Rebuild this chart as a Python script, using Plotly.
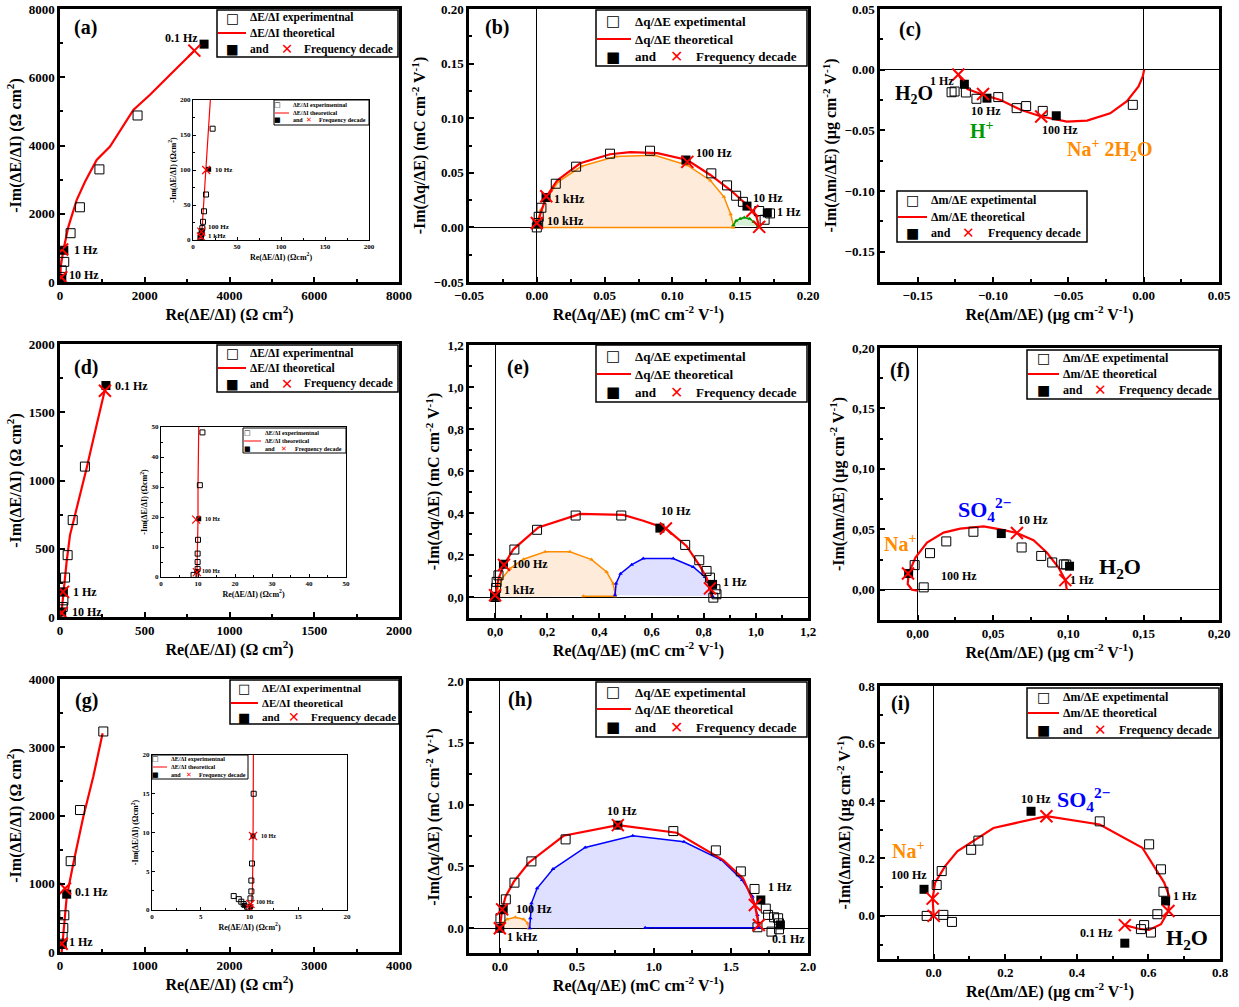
import plotly.graph_objects as go

W, H = 1239, 1007
FONT = "Liberation Serif"
RED = "#ff0000"
ORANGE = "#ff8c00"
BLUE = "#0000ff"
GREEN = "#009900"

# ---------------- (a) ----------------
A_EXP_X = [25, 30, 40, 100, 250, 470, 930, 1830]
A_EXP_Y = [60, 150, 340, 590, 1430, 2190, 3300, 4880]
A_DEC_X = [25, 90, 3400]
A_DEC_Y = [100, 930, 6970]
A_XM_X = [30, 50, 3170]
A_XM_Y = [140, 950, 6780]
A_TH_X = [8, 16, 79, 197, 393, 590, 865, 1180, 1731, 2124, 2675, 3171]
A_TH_Y = [0, 441, 930, 1616, 2400, 2938, 3575, 3967, 5044, 5485, 6170, 6778]
A_LAB_T = ["0.1 Hz", "1 Hz", "10 Hz"]
A_LAB_X = [2872, 275, 157]
A_LAB_Y = [7150, 930, 196]
# inset (a)
AI_EXP_X = [8.5, 9, 9.5, 10, 10.6, 11.4, 12.5, 14.8, 22.3]
AI_EXP_Y = [2, 4, 8, 12, 17, 26, 41, 65, 159]
AI_DEC_X = [9, 9.5, 17.8]
AI_DEC_Y = [6, 13, 101]
AI_XM_X = [9, 9.5, 15]
AI_XM_Y = [5, 12, 100]
AI_TH_X = [9, 10, 11, 13, 15, 17, 19.7]
AI_TH_Y = [0, 10, 30, 70, 110, 150, 200]
AI_LAB_T = ["10 Hz", "100 Hz", "1 kHz"]
AI_LAB_X = [22.7, 14.4, 15]
AI_LAB_Y = [100, 18, 6]

# ---------------- (b) ----------------
B_EXP_X = [0, 0.001, 0.0014, 0.0034, 0.014, 0.029, 0.054, 0.0835, 0.1287, 0.1403, 0.147, 0.152, 0.164, 0.168, 0.172]
B_EXP_Y = [0, 0.004, 0.0097, 0.018, 0.040, 0.0556, 0.0675, 0.0702, 0.0495, 0.0385, 0.029, 0.0234, 0.015, 0.007, 0.0128]
B_DEC_X = [0.0002, 0.0068, 0.110, 0.155, 0.170]
B_DEC_Y = [0.003, 0.0274, 0.0617, 0.0195, 0.0133]
B_XM_X = [0, 0.007, 0.111, 0.159, 0.164]
B_XM_Y = [0.004, 0.0286, 0.060, 0.015, 0.0005]
B_TH_X = [0, 0.0027, 0.007, 0.015, 0.032, 0.054, 0.069, 0.089, 0.111, 0.128, 0.143, 0.155, 0.162, 0.164]
B_TH_Y = [0, 0.0127, 0.028, 0.043, 0.0587, 0.067, 0.069, 0.068, 0.0617, 0.048, 0.034, 0.0205, 0.0097, 0.0005]
B_OR_X = [0, 0.001, 0.003, 0.008, 0.016, 0.033, 0.058, 0.087, 0.111, 0.128, 0.138, 0.143, 0.145, 0.145, 0.0]
B_OR_Y = [0, 0.008, 0.016, 0.028, 0.042, 0.056, 0.065, 0.066, 0.057, 0.043, 0.028, 0.012, 0.002, 0.0, 0.0]
B_GR_X = [0.145, 0.147, 0.150, 0.153, 0.157, 0.160, 0.163]
B_GR_Y = [0.002, 0.006, 0.008, 0.009, 0.008, 0.005, 0.001]
B_LAB_T = ["100 Hz", "1 kHz", "10 kHz", "10 Hz", "1 Hz"]
B_LAB_X = [0.1157, 0.0113, 0.0063, 0.158, 0.176]
B_LAB_Y = [0.0678, 0.0256, 0.006, 0.0271, 0.0137]

# ---------------- (c) ----------------
C_EXP_X = [-0.1275, -0.1255, -0.118, -0.111, -0.0965, -0.0843, -0.078, -0.067, -0.0072]
C_EXP_Y = [-0.0186, -0.018, -0.0188, -0.024, -0.0226, -0.0317, -0.030, -0.034, -0.029]
C_DEC_X = [-0.119, -0.104, -0.058]
C_DEC_Y = [-0.012, -0.0235, -0.038]
C_XM_X = [-0.123, -0.1066, -0.068]
C_XM_Y = [-0.004, -0.020, -0.0386]
C_TH_X = [-0.123, -0.117, -0.1066, -0.095, -0.0817, -0.068, -0.0509, -0.0376, -0.0222, -0.0111, -0.0034, -0.0006, 0.0003]
C_TH_Y = [-0.004, -0.016, -0.0207, -0.025, -0.033, -0.0386, -0.0428, -0.042, -0.036, -0.026, -0.0138, -0.0056, 0]
C_LAB_T = ["1 Hz", "10 Hz", "100 Hz"]
C_LAB_X = [-0.134, -0.1045, -0.0557]
C_LAB_Y = [-0.0091, -0.0339, -0.0496]

# ---------------- (d) ----------------
D_EXP_X = [16, 20, 30, 45, 75, 147]
D_EXP_Y = [73, 122, 289, 453, 710, 1102]
D_DEC_X = [10, 20, 271]
D_DEC_Y = [37, 184, 1696]
D_XM_X = [10, 18, 265]
D_XM_Y = [30, 184, 1657]
D_TH_X = [6, 20, 39, 59, 98, 157, 216, 265]
D_TH_Y = [0, 184, 404, 600, 795, 1089, 1407, 1665]
D_LAB_T = ["0.1 Hz", "1 Hz", "10 Hz"]
D_LAB_X = [315, 63, 59]
D_LAB_Y = [1689, 184, 37]
# inset (d)
DI_EXP_X = [8.8, 9.9, 9.9, 9.9, 10.0, 10.5, 11.2]
DI_EXP_Y = [0.7, 2.7, 5.0, 7.8, 12.4, 30.6, 48.2]
DI_DEC_X = [9.7, 10.2]
DI_DEC_Y = [1.8, 19.4]
DI_XM_X = [9.7, 9.5]
DI_XM_Y = [1.6, 19.1]
DI_TH_X = [9.7, 9.9, 10.0, 10.0, 10.1, 10.2]
DI_TH_Y = [0, 10.2, 19.1, 30, 39, 50]
DI_LAB_T = ["10 Hz", "100 Hz"]
DI_LAB_X = [11.35, 10.45]
DI_LAB_Y = [19.4, 1.9]

# ---------------- (e) ----------------
E_EXP_X = [0, 0.004, 0.006, 0.013, 0.074, 0.161, 0.309, 0.484, 0.729, 0.783, 0.811, 0.824, 0.845, 0.849, 0.837]
E_EXP_Y = [0, 0.043, 0.072, 0.103, 0.226, 0.320, 0.388, 0.388, 0.248, 0.175, 0.124, 0.092, 0.037, 0.013, -0.003]
E_DEC_X = [0, 0.032, 0.632, 0.834]
E_DEC_Y = [0.003, 0.156, 0.328, 0.060]
E_XM_X = [0, 0.034, 0.655, 0.824]
E_XM_Y = [0.008, 0.153, 0.326, 0.041]
E_TH_X = [0, 0.013, 0.034, 0.070, 0.166, 0.326, 0.492, 0.568, 0.655, 0.734, 0.785, 0.811, 0.824, 0.830]
E_TH_Y = [0, 0.087, 0.153, 0.227, 0.331, 0.396, 0.391, 0.363, 0.326, 0.243, 0.148, 0.092, 0.041, 0]
E_OR_X = [0, 0.009, 0.026, 0.057, 0.109, 0.192, 0.287, 0.370, 0.428, 0.453, 0.460, 0.460, 0.338]
E_OR_Y = [0, 0.040, 0.087, 0.135, 0.180, 0.215, 0.215, 0.178, 0.119, 0.064, 0.016, 0.004, 0.004]
E_BL_X = [0.460, 0.464, 0.481, 0.524, 0.568, 0.683, 0.760, 0.805, 0.830, 0.834]
E_BL_Y = [0.008, 0.064, 0.111, 0.154, 0.183, 0.183, 0.143, 0.095, 0.040, 0.003]
E_LAB_T = ["10 Hz", "100 Hz", "1 kHz", "1 Hz"]
E_LAB_X = [0.693, 0.057, 0.0255, 0.868]
E_LAB_Y = [0.41, 0.157, 0.032, 0.070]
E_TICKS = [0.0, 0.2, 0.4, 0.6, 0.8, 1.0, 1.2]
E_TICKTEXT = ["0,0", "0,2", "0,4", "0,6", "0,8", "1,0", "1,2"]

# ---------------- (f) ----------------
F_EXP_X = [-0.002, 0.004, 0.0082, 0.019, 0.037, 0.069, 0.082, 0.0893, 0.097, 0.0986]
F_EXP_Y = [0.0204, 0.002, 0.0303, 0.040, 0.048, 0.035, 0.028, 0.0226, 0.021, 0.0209]
F_DEC_X = [-0.006, 0.0555, 0.1008]
F_DEC_Y = [0.0135, 0.0465, 0.0195]
F_XM_X = [-0.0064, 0.0659, 0.098]
F_XM_Y = [0.0135, 0.047, 0.008]
F_TH_X = [0.099, 0.098, 0.0935, 0.0857, 0.0769, 0.0659, 0.0548, 0.0438, 0.0283, 0.0172, 0.0062, -0.0015, -0.006, -0.0066, -0.0038, 0]
F_TH_Y = [0, 0.008, 0.0184, 0.0308, 0.041, 0.047, 0.050, 0.0525, 0.0506, 0.0473, 0.039, 0.0267, 0.0135, 0.0047, 0, -0.0008]
F_LAB_T = ["10 Hz", "100 Hz", "1 Hz"]
F_LAB_X = [0.065, 0.014, 0.1]
F_LAB_Y = [0.0575, 0.0116, 0.0082]
F_TICKS = [0.0, 0.05, 0.10, 0.15, 0.20]
F_TICKTEXT = ["0,00", "0,05", "0,10", "0,15", "0,20"]

# ---------------- (g) ----------------
G_EXP_X = [20, 31, 39, 51, 126, 236, 511]
G_EXP_Y = [122, 220, 352, 538, 1331, 2080, 3231]
G_DEC_X = [20, 79]
G_DEC_Y = [110, 847]
G_XM_X = [20, 59]
G_XM_Y = [122, 930]
G_TH_X = [20, 39, 79, 157, 275, 393, 503]
G_TH_Y = [0, 269, 808, 1297, 1982, 2570, 3206]
G_LAB_T = ["0.1 Hz", "1 Hz"]
G_LAB_X = [149, 86]
G_LAB_Y = [881, 147]
# inset (g)
GI_EXP_X = [8.38, 8.9, 9.16, 9.4, 9.74, 9.9, 10.1, 10.19, 10.19, 10.26, 10.43]
GI_EXP_Y = [1.8, 1.4, 1.07, 0.77, 0.43, 0.2, 1.5, 2.4, 3.8, 6.0, 15.0]
GI_DEC_X = [9.47, 10.1, 10.36]
GI_DEC_Y = [0.6, 0.4, 9.55]
GI_XM_X = [10.0, 10.1, 10.36]
GI_XM_Y = [0.2, 0.77, 9.55]
GI_TH_X = [9.9, 10.2, 10.3, 10.36, 10.4]
GI_TH_Y = [0, 0.86, 2.6, 7.7, 20]
GI_LAB_T = ["10 Hz", "100 Hz"]
GI_LAB_X = [10.94, 10.5]
GI_LAB_Y = [9.55, 1.07]

# ---------------- (h) ----------------
H_EXP_X = [0.004, 0.039, 0.095, 0.205, 0.427, 1.126, 1.402, 1.564, 1.653, 1.726, 1.741, 1.780, 1.806, 1.812, 1.812, 1.763, 1.672]
H_EXP_Y = [0.081, 0.234, 0.369, 0.541, 0.719, 0.786, 0.630, 0.460, 0.318, 0.159, 0.108, 0.089, 0.081, 0.040, -0.008, -0.027, 0.008]
H_DEC_X = [0, 0.022, 0.766, 1.694, 1.821]
H_DEC_Y = [0, 0.153, 0.834, 0.229, 0.027]
H_XM_X = [0, 0.015, 0.766, 1.655, 1.681]
H_XM_Y = [0, 0.153, 0.834, 0.188, 0.027]
H_TH_X = [0, 0.015, 0.037, 0.091, 0.188, 0.414, 0.766, 1.148, 1.450, 1.579, 1.655, 1.681]
H_TH_Y = [0, 0.153, 0.256, 0.377, 0.530, 0.748, 0.834, 0.773, 0.552, 0.404, 0.188, 0.027]
H_BL_X = [0.194, 0.198, 0.205, 0.242, 0.345, 0.554, 0.863, 1.195, 1.439, 1.573, 1.640, 1.672, 1.681, 1.681, 0.943]
H_BL_Y = [0, 0.081, 0.202, 0.323, 0.479, 0.654, 0.748, 0.700, 0.552, 0.390, 0.256, 0.108, 0.040, 0.005, 0.005]
H_OR_X = [0, 0.015, 0.047, 0.101, 0.155, 0.181, 0.188]
H_OR_Y = [0, 0.040, 0.073, 0.089, 0.073, 0.040, 0]
H_LAB_T = ["10 Hz", "100 Hz", "1 kHz", "1 Hz", "0.1 Hz"]
H_LAB_X = [0.796, 0.0906, 0.0367, 1.726, 1.756]
H_LAB_Y = [0.947, 0.159, -0.067, 0.336, -0.083]

# ---------------- (i) ----------------
I_EXP_X = [-0.0196, 0.027, 0.051, 0.0084, 0.0224, 0.1047, 0.125, 0.464, 0.602, 0.635, 0.642, 0.625, 0.588, 0.579, 0.607]
I_EXP_Y = [0, 0.0035, -0.021, 0.1075, 0.156, 0.230, 0.262, 0.329, 0.249, 0.162, 0.084, 0.0058, -0.032, -0.046, -0.058]
I_DEC_X = [-0.027, 0.272, 0.648, 0.534]
I_DEC_Y = [0.0925, 0.364, 0.052, -0.095]
I_XM_X = [-0.003, 0, 0.315, 0.656, 0.534]
I_XM_Y = [0.060, 0, 0.347, 0.0173, -0.032]
I_TH_X = [0, -0.003, 0.004, 0.032, 0.066, 0.111, 0.167, 0.315, 0.464, 0.583, 0.616, 0.644, 0.658, 0.656, 0.635, 0.602, 0.570, 0.534]
I_TH_Y = [0, 0.060, 0.116, 0.173, 0.225, 0.260, 0.306, 0.347, 0.318, 0.237, 0.173, 0.116, 0.069, 0.017, -0.029, -0.049, -0.044, -0.032]
I_LAB_T = ["10 Hz", "100 Hz", "1 Hz", "0.1 Hz"]
I_LAB_X = [0.287, -0.068, 0.703, 0.455]
I_LAB_Y = [0.407, 0.141, 0.069, -0.058]

# legend / panel texts
LEG_EI = ["ΔE/ΔI experimentnal", "ΔE/ΔI theoretical"]
LEG_QE = ["Δq/ΔE expetimental", "Δq/ΔE theoretical"]
LEG_ME = ["Δm/ΔE expetimental", "Δm/ΔE theoretical"]
LEG_AND = "and"
LEG_FREQ = "Frequency decade"
PANELS = ["(a)", "(b)", "(c)", "(d)", "(e)", "(f)", "(g)", "(h)", "(i)"]

# ---------------- layout helpers ----------------
fig = go.Figure()
annotations = []
shapes = []


def dom(box):
    l, t, r, b = box
    return [l / W, r / W], [1 - b / H, 1 - t / H]


def suffix(n):
    return "" if n == 1 else str(n)


def make_axes(n, box, xr, yr, xdt, ydt, xfmt, yfmt, xtitle, ytitle, small=False,
              zero=False, xtv=None, xtt=None, ytv=None, ytt=None):
    xd, yd = dom(box)
    s = suffix(n)
    tf = 7 if small else 13
    ttf = 8 if small else 16
    lw = 1 if small else 2.5
    common = dict(showline=True, linecolor="black", linewidth=lw, mirror=True,
                  ticks="inside", ticklen=3 if small else 5, tickwidth=1 if small else 1.5,
                  tickcolor="black", showgrid=False, automargin=False,
                  tickfont=dict(size=tf, family=FONT, color="black", weight="bold"),
                  zeroline=zero, zerolinecolor="black", zerolinewidth=1.2)
    xa = dict(common, domain=xd, anchor="y" + s, range=xr,
              title=dict(text=xtitle, font=dict(size=ttf, family=FONT, weight="bold"), standoff=2 if small else 6),
              minor=dict(ticks="inside", ticklen=2 if small else 3, tickcolor="black", dtick=xdt / 2))
    ya = dict(common, domain=yd, anchor="x" + s, range=yr,
              title=dict(text=ytitle, font=dict(size=ttf, family=FONT, weight="bold"), standoff=2 if small else 4),
              minor=dict(ticks="inside", ticklen=2 if small else 3, tickcolor="black", dtick=ydt / 2))
    if xtv is not None:
        xa.update(tickmode="array", tickvals=xtv, ticktext=xtt)
    else:
        xa.update(dtick=xdt, tick0=0, tickformat=xfmt)
    if ytv is not None:
        ya.update(tickmode="array", tickvals=ytv, ticktext=ytt)
    else:
        ya.update(dtick=ydt, tick0=0, tickformat=yfmt)
    fig.update_layout(**{"xaxis" + s: xa, "yaxis" + s: ya})


def add_fill(n, xs, ys, color, fillc):
    s = suffix(n)
    fig.add_trace(go.Scatter(x=xs, y=ys, mode="lines+markers", fill="toself", fillcolor=fillc,
                             line=dict(color=color, width=1.5),
                             marker=dict(symbol="triangle-up", size=4, color=color),
                             xaxis="x" + s, yaxis="y" + s, showlegend=False, hoverinfo="skip"))


def add_series(n, names, ex, ey, tx, ty, dx, dy, mx, my, small=False):
    s = suffix(n)
    ax = dict(xaxis="x" + s, yaxis="y" + s, showlegend=False)
    msz = 5 if small else 9
    fig.add_trace(go.Scatter(x=tx, y=ty, mode="lines", name=names[1],
                             line=dict(color=RED, width=1.2 if small else 2.2), **ax))
    fig.add_trace(go.Scatter(x=ex, y=ey, mode="markers", name=names[0],
                             marker=dict(symbol="square-open", size=msz, color="black", line=dict(width=1)), **ax))
    fig.add_trace(go.Scatter(x=dx, y=dy, mode="markers", name=LEG_FREQ,
                             marker=dict(symbol="square", size=msz, color="black"), **ax))
    fig.add_trace(go.Scatter(x=mx, y=my, mode="markers", name=LEG_FREQ,
                             marker=dict(symbol="x-thin-open", size=msz + 3, color=RED,
                                         line=dict(width=1.2 if small else 2, color=RED)), **ax))


def add_labels(n, ts, xs, ys, size=12, anchor="left"):
    s = suffix(n)
    for t, x, y in zip(ts, xs, ys):
        annotations.append(dict(x=x, y=y, xref="x" + s, yref="y" + s, text=t, showarrow=False,
                                xanchor=anchor, yanchor="middle",
                                font=dict(size=size, family=FONT, color="black", weight="bold")))


def add_text(n, t, x, y, size, color):
    s = suffix(n)
    annotations.append(dict(x=x, y=y, xref="x" + s, yref="y" + s, text=t, showarrow=False,
                            xanchor="center", yanchor="middle",
                            font=dict(size=size, family=FONT, color=color, weight="bold")))


def ptext(x, y, t, size, color="black", anchor="left", family=FONT):
    annotations.append(dict(x=x / W, y=1 - y / H, xref="paper", yref="paper", text=t, showarrow=False,
                            xanchor=anchor, yanchor="middle",
                            font=dict(size=size, family=family, color=color, weight="bold")))


def legend_box(box, rows, sym_x, text_x, cross_x, freq_x, names, fs, small=False):
    l, t, r, b = box
    shapes.append(dict(type="rect", xref="paper", yref="paper", x0=l / W, x1=r / W, y0=1 - b / H, y1=1 - t / H,
                       line=dict(color="black", width=1 if small else 1.5), fillcolor="white", layer="above"))
    ssz = fs + (1 if small else 2)
    ptext(sym_x, rows[0], "□", ssz, anchor="center", family="DejaVu Sans")
    ptext(text_x, rows[0], names[0], fs)
    shapes.append(dict(type="line", xref="paper", yref="paper", x0=(l + 1) / W, x1=(text_x - 2) / W,
                       y0=1 - rows[1] / H, y1=1 - rows[1] / H, line=dict(color=RED, width=1 if small else 2),
                       layer="above"))
    ptext(text_x, rows[1], names[1], fs)
    ptext(sym_x, rows[2], "■", ssz, anchor="center", family="DejaVu Sans")
    ptext(text_x, rows[2], LEG_AND, fs)
    ptext(cross_x, rows[2], "✕", ssz + (0 if small else 1), color=RED, anchor="center", family="DejaVu Sans")
    ptext(freq_x, rows[2], LEG_FREQ, fs)


T_EI_X = "Re(ΔE/ΔI) (Ω cm<sup>2</sup>)"
T_EI_Y = "-Im(ΔE/ΔI) (Ω cm<sup>2</sup>)"
T_QE_X = "Re(Δq/ΔE) (mC cm<sup>-2</sup> V<sup>-1</sup>)"
T_QE_Y = "-Im(Δq/ΔE) (mC cm<sup>-2</sup> V<sup>-1</sup>)"
T_ME_X = "Re(Δm/ΔE) (μg cm<sup>-2</sup> V<sup>-1</sup>)"
T_ME_Y = "-Im(Δm/ΔE) (μg cm<sup>-2</sup> V<sup>-1</sup>)"
T_IN_X = "Re(ΔE/ΔI) (Ωcm<sup>2</sup>)"
T_IN_Y = "-Im(ΔE/ΔI) (Ωcm<sup>2</sup>)"

# axes
make_axes(1, (60, 9, 399, 282), [0, 8000], [0, 8000], 2000, 2000, "d", "d", T_EI_X, T_EI_Y)
make_axes(2, (469, 9, 808, 282), [-0.05, 0.20], [-0.05, 0.20], 0.05, 0.05, ".2f", ".2f", T_QE_X, T_QE_Y, zero=True)
make_axes(3, (880, 9, 1219, 282), [-0.175, 0.05], [-0.175, 0.05], 0.05, 0.05, ".2f", ".2f", T_ME_X, T_ME_Y, zero=True)
make_axes(4, (60, 344, 399, 617), [0, 2000], [0, 2000], 500, 500, "d", "d", T_EI_X, T_EI_Y)
make_axes(5, (469, 345, 808, 618), [-0.1, 1.2], [-0.1, 1.2], 0.2, 0.2, None, None, T_QE_X, T_QE_Y, zero=True,
          xtv=E_TICKS, xtt=E_TICKTEXT, ytv=E_TICKS, ytt=E_TICKTEXT)
make_axes(6, (880, 348, 1219, 620), [-0.025, 0.2], [-0.025, 0.2], 0.05, 0.05, None, None, T_ME_X, T_ME_Y, zero=True,
          xtv=F_TICKS, xtt=F_TICKTEXT, ytv=F_TICKS, ytt=F_TICKTEXT)
make_axes(7, (60, 679, 399, 952), [0, 4000], [0, 4000], 1000, 1000, "d", "d", T_EI_X, T_EI_Y)
make_axes(8, (469, 681, 808, 953), [-0.2, 2.0], [-0.2, 2.0], 0.5, 0.5, ".1f", ".1f", T_QE_X, T_QE_Y, zero=True)
make_axes(9, (880, 686, 1220, 959), [-0.15, 0.8], [-0.15, 0.8], 0.2, 0.2, ".1f", ".1f", T_ME_X, T_ME_Y, zero=True)
make_axes(10, (193, 100, 369, 240), [0, 200], [0, 200], 50, 50, "d", "d", T_IN_X, T_IN_Y, small=True)
make_axes(11, (161, 427, 346, 577), [0, 50], [0, 50], 10, 10, "d", "d", T_IN_X, T_IN_Y, small=True)
make_axes(12, (152, 755, 347, 910), [0, 20], [0, 20], 5, 5, "d", "d", T_IN_X, T_IN_Y, small=True)

# fills
add_fill(2, B_OR_X, B_OR_Y, ORANGE, "rgba(255,190,130,0.30)")
add_fill(2, B_GR_X, B_GR_Y, GREEN, "rgba(120,210,120,0.30)")
add_fill(5, E_OR_X, E_OR_Y, ORANGE, "rgba(255,190,130,0.30)")
add_fill(5, E_BL_X, E_BL_Y, BLUE, "rgba(150,150,255,0.30)")
add_fill(8, H_OR_X, H_OR_Y, ORANGE, "rgba(255,190,130,0.30)")
add_fill(8, H_BL_X, H_BL_Y, BLUE, "rgba(150,150,255,0.30)")

# series
add_series(1, LEG_EI, A_EXP_X, A_EXP_Y, A_TH_X, A_TH_Y, A_DEC_X, A_DEC_Y, A_XM_X, A_XM_Y)
add_series(2, LEG_QE, B_EXP_X, B_EXP_Y, B_TH_X, B_TH_Y, B_DEC_X, B_DEC_Y, B_XM_X, B_XM_Y)
add_series(3, LEG_ME, C_EXP_X, C_EXP_Y, C_TH_X, C_TH_Y, C_DEC_X, C_DEC_Y, C_XM_X, C_XM_Y)
add_series(4, LEG_EI, D_EXP_X, D_EXP_Y, D_TH_X, D_TH_Y, D_DEC_X, D_DEC_Y, D_XM_X, D_XM_Y)
add_series(5, LEG_QE, E_EXP_X, E_EXP_Y, E_TH_X, E_TH_Y, E_DEC_X, E_DEC_Y, E_XM_X, E_XM_Y)
add_series(6, LEG_ME, F_EXP_X, F_EXP_Y, F_TH_X, F_TH_Y, F_DEC_X, F_DEC_Y, F_XM_X, F_XM_Y)
add_series(7, LEG_EI, G_EXP_X, G_EXP_Y, G_TH_X, G_TH_Y, G_DEC_X, G_DEC_Y, G_XM_X, G_XM_Y)
add_series(8, LEG_QE, H_EXP_X, H_EXP_Y, H_TH_X, H_TH_Y, H_DEC_X, H_DEC_Y, H_XM_X, H_XM_Y)
add_series(9, LEG_ME, I_EXP_X, I_EXP_Y, I_TH_X, I_TH_Y, I_DEC_X, I_DEC_Y, I_XM_X, I_XM_Y)
add_series(10, LEG_EI, AI_EXP_X, AI_EXP_Y, AI_TH_X, AI_TH_Y, AI_DEC_X, AI_DEC_Y, AI_XM_X, AI_XM_Y, small=True)
add_series(11, LEG_EI, DI_EXP_X, DI_EXP_Y, DI_TH_X, DI_TH_Y, DI_DEC_X, DI_DEC_Y, DI_XM_X, DI_XM_Y, small=True)
add_series(12, LEG_EI, GI_EXP_X, GI_EXP_Y, GI_TH_X, GI_TH_Y, GI_DEC_X, GI_DEC_Y, GI_XM_X, GI_XM_Y, small=True)

# legends (drawn as boxes of text)
legend_box((217, 10, 398, 57), (18, 33, 49), 232, 248, 287, 302, LEG_EI, 11.5)
legend_box((596, 10, 807, 66), (21, 39, 57), 613, 633, 676, 694, LEG_QE, 13)
legend_box((897, 191, 1087, 242), (200, 217, 233), 912, 929, 969, 986, LEG_ME, 12)
legend_box((217, 345, 398, 392), (353, 368, 384), 232, 248, 287, 302, LEG_EI, 11.5)
legend_box((596, 345, 807, 402), (356, 374, 392), 613, 633, 676, 694, LEG_QE, 13)
legend_box((1027, 350, 1219, 399), (358, 374, 390), 1043, 1061, 1100, 1117, LEG_ME, 12)
legend_box((230, 680, 399, 724), (688, 703, 717), 244, 260, 294, 309, LEG_EI, 11)
legend_box((596, 682, 807, 737), (692, 709, 727), 613, 633, 676, 694, LEG_QE, 13)
legend_box((1027, 688, 1219, 738), (697, 713, 730), 1043, 1061, 1100, 1117, LEG_ME, 12)
legend_box((274, 100, 369, 125), (105, 113, 120), 277, 291, 309, 317, LEG_EI, 6, small=True)
legend_box((243, 428, 346, 453), (433, 441, 449), 247, 263, 284, 293, LEG_EI, 6, small=True)
legend_box((152, 755, 248, 779), (759, 767, 775), 155, 169, 189, 197, LEG_EI, 6, small=True)

# frequency labels
add_labels(1, A_LAB_T[:1], A_LAB_X[:1], A_LAB_Y[:1], anchor="center")
add_labels(1, A_LAB_T[1:], A_LAB_X[1:], A_LAB_Y[1:])
add_labels(10, AI_LAB_T, AI_LAB_X, AI_LAB_Y, size=7)
add_labels(2, B_LAB_T, B_LAB_X, B_LAB_Y)
add_labels(3, C_LAB_T, C_LAB_X, C_LAB_Y, anchor="center")
add_labels(4, D_LAB_T, D_LAB_X, D_LAB_Y)
add_labels(11, DI_LAB_T, DI_LAB_X, DI_LAB_Y, size=6)
add_labels(5, E_LAB_T[:1], E_LAB_X[:1], E_LAB_Y[:1], anchor="center")
add_labels(5, E_LAB_T[1:], E_LAB_X[1:], E_LAB_Y[1:])
add_labels(6, F_LAB_T, F_LAB_X, F_LAB_Y)
add_labels(7, G_LAB_T, G_LAB_X, G_LAB_Y)
add_labels(12, GI_LAB_T, GI_LAB_X, GI_LAB_Y, size=6)
add_labels(8, H_LAB_T[:1], H_LAB_X[:1], H_LAB_Y[:1], anchor="center")
add_labels(8, H_LAB_T[1:], H_LAB_X[1:], H_LAB_Y[1:])
add_labels(9, I_LAB_T, I_LAB_X, I_LAB_Y, anchor="center")

# species labels
add_text(3, "H<sub>2</sub>O", -0.1524, -0.0207, 20, "black")
add_text(3, "H<sup>+</sup>", -0.1072, -0.0496, 20, GREEN)
add_text(3, "Na<sup>+</sup> 2H<sub>2</sub>O", -0.0226, -0.066, 20, ORANGE)
add_text(6, "SO<sub>4</sub><sup>2−</sup>", 0.045, 0.066, 22, BLUE)
add_text(6, "Na<sup>+</sup>", -0.0115, 0.039, 20, ORANGE)
add_text(6, "H<sub>2</sub>O", 0.134, 0.0184, 22, "black")
add_text(9, "SO<sub>4</sub><sup>2−</sup>", 0.42, 0.405, 22, BLUE)
add_text(9, "Na<sup>+</sup>", -0.071, 0.231, 20, ORANGE)
add_text(9, "H<sub>2</sub>O", 0.709, -0.079, 22, "black")

# panel letters
PANEL_PX = [(85, 28), (497, 28), (910, 29), (86, 367), (518, 367), (900, 370), (86, 700), (520, 699), (900, 703)]
for t, (px, py) in zip(PANELS, PANEL_PX):
    ptext(px, py, t, 20, anchor="center")

fig.update_layout(width=W, height=H, margin=dict(l=0, r=0, t=0, b=0), autosize=False,
                  paper_bgcolor="white", plot_bgcolor="white", template="none", showlegend=False,
                  font=dict(family=FONT, color="black", weight="bold"),
                  annotations=annotations, shapes=shapes)

fig.write_html("out.html", config={"displayModeBar": False},
               post_script="document.body.style.margin='0';")
